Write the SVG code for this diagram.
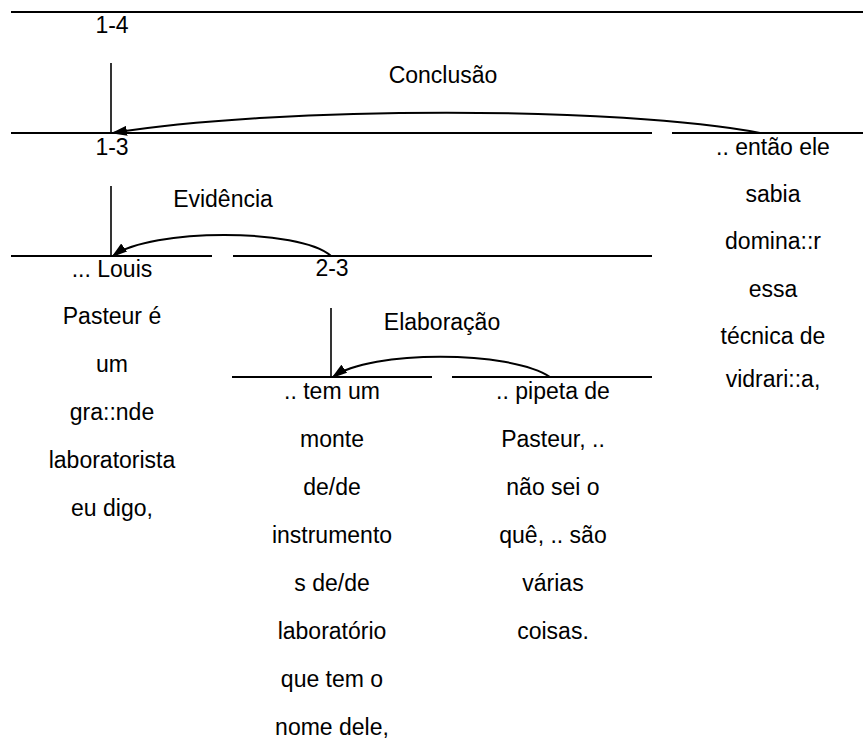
<svg xmlns="http://www.w3.org/2000/svg" width="863" height="742" viewBox="0 0 863 742">
<style>
text{font-family:"Liberation Sans",Arial,sans-serif;font-size:23px;fill:#000;text-anchor:middle}
.ln{stroke:#000;stroke-width:2;fill:none}
.vl{stroke:#000;stroke-width:1.6;fill:none}
.arc{stroke:#000;stroke-width:2;fill:none;marker-end:url(#ah)}
</style>
<defs>
<marker id="ah" markerWidth="16" markerHeight="10" refX="14" refY="5" orient="auto" markerUnits="userSpaceOnUse">
<path d="M0,0 L16,5 L0,10 z" fill="#000"/>
</marker>
</defs>
<rect width="863" height="742" fill="#fff"/>
<g id="connectors">
<line class="ln" x1="11" y1="12" x2="863" y2="12"/>
<line class="vl" x1="111" y1="63" x2="111" y2="133"/>
<line class="ln" x1="11" y1="133" x2="652" y2="133"/>
<line class="ln" x1="672" y1="133" x2="863" y2="133"/>
<line class="vl" x1="111" y1="186" x2="111" y2="256"/>
<line class="ln" x1="11" y1="256" x2="212" y2="256"/>
<line class="ln" x1="233" y1="256" x2="652" y2="256"/>
<line class="vl" x1="331" y1="308" x2="331" y2="377"/>
<line class="ln" x1="232" y1="377" x2="432" y2="377"/>
<line class="ln" x1="452" y1="377" x2="652" y2="377"/>
<path class="arc" d="M760,133 C620,106 280,106 113,133"/>
<path class="arc" d="M331,256 C300,228 150,228 113,256"/>
<path class="arc" d="M550,377 C510,350 370,350 333,377"/>
</g>
<g id="n14"><text x="112" y="33">1-4</text></g>
<g id="rel-conclusao"><text x="443" y="83">Conclusão</text></g>
<g id="n13"><text x="112" y="155">1-3</text></g>
<g id="rel-evidencia"><text x="223" y="207">Evidência</text></g>
<g id="n23"><text x="332" y="276">2-3</text></g>
<g id="rel-elaboracao"><text x="442" y="330">Elaboração</text></g>
<g id="seg1">
<text x="112" y="277">... Louis</text>
<text x="112" y="324">Pasteur é</text>
<text x="112" y="372">um</text>
<text x="112" y="420">gra::nde</text>
<text x="112" y="468">laboratorista</text>
<text x="112" y="516">eu digo,</text>
</g>
<g id="seg2">
<text x="332" y="399">.. tem um</text>
<text x="332" y="447">monte</text>
<text x="332" y="495">de/de</text>
<text x="332" y="543">instrumento</text>
<text x="332" y="591">s de/de</text>
<text x="332" y="639">laboratório</text>
<text x="332" y="687">que tem o</text>
<text x="332" y="735">nome dele,</text>
</g>
<g id="seg3">
<text x="553" y="399">.. pipeta de</text>
<text x="553" y="447">Pasteur, ..</text>
<text x="553" y="495">não sei o</text>
<text x="553" y="543">quê, .. são</text>
<text x="553" y="591">várias</text>
<text x="553" y="639">coisas.</text>
</g>
<g id="seg4">
<text x="773" y="155">.. então ele</text>
<text x="773" y="202">sabia</text>
<text x="773" y="249">domina::r</text>
<text x="773" y="297">essa</text>
<text x="773" y="344">técnica de</text>
<text x="773" y="387">vidrari::a,</text>
</g>
</svg>
